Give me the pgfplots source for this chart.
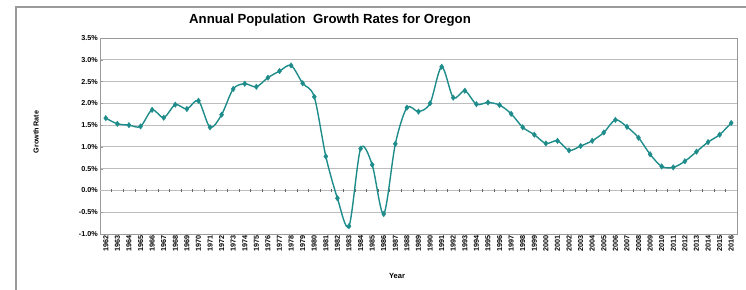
\documentclass[border=0pt]{standalone}
\usepackage{pgfplots}
\pgfplotsset{compat=1.18}
\usepackage{fontspec}
\setmainfont{Liberation Sans}
\definecolor{teal1}{HTML}{1E8C8A}
\definecolor{gridg}{HTML}{BDBDBD}
\definecolor{frameg}{HTML}{9A9A9A}
\begin{document}
\begin{tikzpicture}[x=1pt,y=1pt]
\useasboundingbox (-100,-55) rectangle (646,234);
\draw[frameg, line width=1.2pt] (-84,-60) -- (-84,227) -- (660,227);
\begin{axis}[
  at={(0,0)}, anchor=south west,
  scale only axis, width=637pt, height=196pt,
  xmin=1961.5, xmax=2016.5,
  ymin=-1.0, ymax=3.5,
  ytick={-1,-0.5,0,0.5,1,1.5,2,2.5,3,3.5},
  yticklabels={-1.0\%,-0.5\%,0.0\%,0.5\%,1.0\%,1.5\%,2.0\%,2.5\%,3.0\%,3.5\%},
  xtick=data,
  /pgf/number format/1000 sep={},
  /pgf/number format/assume math mode=true,
  x tick label style={rotate=90, anchor=east, font=\bfseries\fontsize{7.2}{8}\selectfont, inner sep=1.5pt},
  y tick label style={font=\bfseries\fontsize{7.2}{8}\selectfont, inner sep=2pt},
  major x tick style={draw=none},
  ytick pos=left,
  major tick length=3pt,
  y tick style={frameg},
  ymajorgrids, grid style={gridg, line width=0.9pt},
  axis line style={frameg, line width=0.9pt},
  clip=false,
]
\draw[gridg, line width=0.8pt] (axis cs:1961.5,0) -- (axis cs:2016.5,0);
\pgfplotsinvokeforeach{1962,...,2015}{
  \draw[black!60, line width=0.4pt] (axis cs:#1.5,-0.025) -- (axis cs:#1.5,0.025);
}
\addplot[teal1, line width=1.4pt, smooth, tension=0.5, mark=diamond*, mark size=2.8pt, mark options={fill=teal1, draw=teal1, line width=0.3pt}] coordinates {
(1962,1.66) (1963,1.53) (1964,1.50) (1965,1.47) (1966,1.85) (1967,1.67)
(1968,1.97) (1969,1.87) (1970,2.06) (1971,1.45) (1972,1.74) (1973,2.33)
(1974,2.45) (1975,2.38) (1976,2.59) (1977,2.74) (1978,2.87) (1979,2.46)
(1980,2.15) (1981,0.78) (1982,-0.18) (1983,-0.82) (1984,0.96) (1985,0.59)
(1986,-0.54) (1987,1.07) (1988,1.90) (1989,1.81) (1990,2.00) (1991,2.84)
(1992,2.13) (1993,2.29) (1994,1.98) (1995,2.02) (1996,1.96) (1997,1.76)
(1998,1.45) (1999,1.28) (2000,1.08) (2001,1.14) (2002,0.92) (2003,1.02)
(2004,1.14) (2005,1.33) (2006,1.62) (2007,1.46) (2008,1.21) (2009,0.83)
(2010,0.55) (2011,0.53) (2012,0.67) (2013,0.89) (2014,1.11) (2015,1.28)
(2016,1.55)
};
\end{axis}
\node[font=\bfseries\fontsize{13.2}{15}\selectfont] at (230,214) {Annual Population\ \ Growth Rates for Oregon};
\node[font=\bfseries\fontsize{7.2}{8}\selectfont, rotate=90] at (-64,102) {Growth Rate};
\node[font=\bfseries\fontsize{7.5}{8}\selectfont] at (297,-42) {Year};
\end{tikzpicture}
\end{document}
